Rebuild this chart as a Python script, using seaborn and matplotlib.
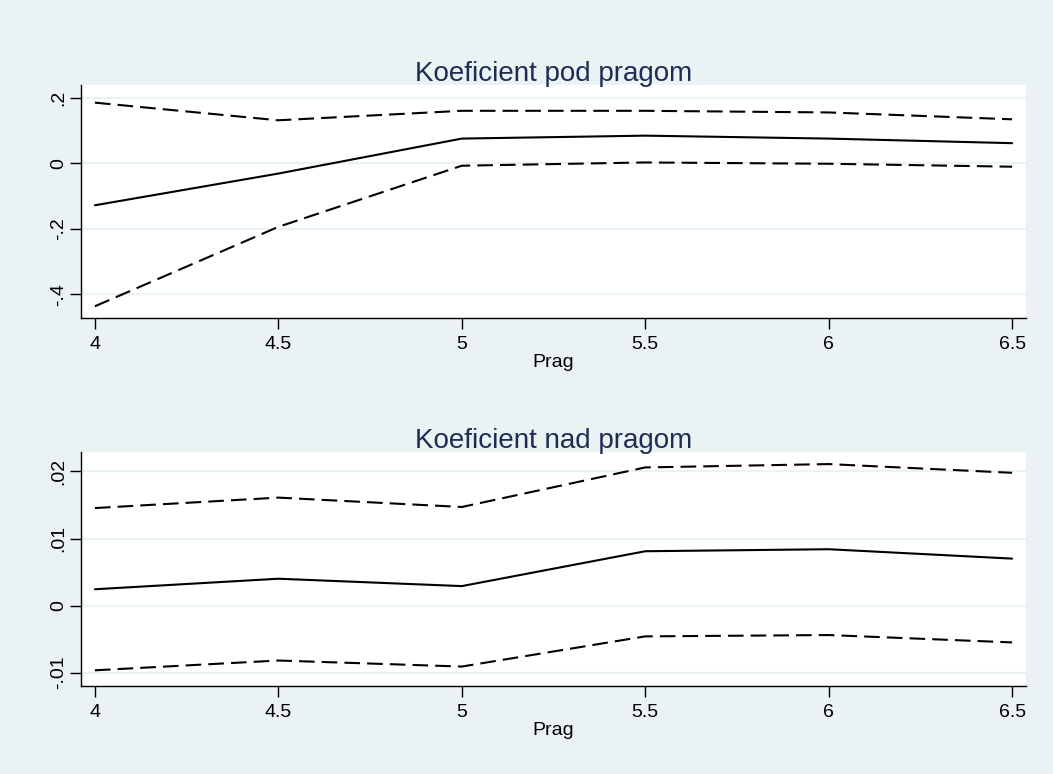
import matplotlib
matplotlib.use("Agg")
import matplotlib.pyplot as plt
import seaborn as sns
import pandas as pd

# Threshold values on the x axis
prag = [4.0, 4.5, 5.0, 5.5, 6.0, 6.5]

# Coefficient below the threshold: estimate with lower/upper confidence bounds
pod_coef = [-0.128, -0.031, 0.076, 0.085, 0.076, 0.062]
pod_low = [-0.437, -0.194, -0.007, 0.003, -0.001, -0.010]
pod_high = [0.186, 0.132, 0.161, 0.161, 0.156, 0.135]

# Coefficient above the threshold
nad_coef = [0.00243, 0.0040, 0.0029, 0.0081, 0.0084, 0.0070]
nad_low = [-0.00966, -0.0082, -0.0091, -0.0046, -0.0044, -0.0055]
nad_high = [0.01454, 0.0161, 0.0147, 0.0206, 0.0211, 0.0198]

xticks = [4, 4.5, 5, 5.5, 6, 6.5]
xtick_labels = ["4", "4.5", "5", "5.5", "6", "6.5"]
pod_yticks = [-0.4, -0.2, 0, 0.2]
pod_ylabels = ["-.4", "-.2", "0", ".2"]
nad_yticks = [-0.01, 0, 0.01, 0.02]
nad_ylabels = ["-.01", "0", ".01", ".02"]

BG = "#EAF2F3"
TITLE_C = "#1E2D53"

sns.set_theme(style="white")
plt.rcParams["font.family"] = ["Liberation Sans", "DejaVu Sans"]

fig = plt.figure(figsize=(10.53, 7.74), dpi=100, facecolor=BG)

ax_top = fig.add_axes([0.0769, 0.5891, 0.8975, 0.3011])
ax_bot = fig.add_axes([0.0769, 0.1137, 0.8975, 0.3023])


def draw_panel(ax, coef, low, high, title, yticks, ylabels, ylim):
    df = pd.DataFrame({"Prag": prag, "coef": coef, "low": low, "high": high})
    lw = 1.5
    sns.lineplot(data=df, x="Prag", y="coef", ax=ax, color="black", lw=lw)
    sns.lineplot(data=df, x="Prag", y="low", ax=ax, color="black", lw=lw)
    sns.lineplot(data=df, x="Prag", y="high", ax=ax, color="black", lw=lw)
    for line in ax.lines[1:]:
        line.set_dashes((7.5, 3.4))
    ax.set_facecolor("white")
    ax.set_xlim(3.962, 6.538)
    ax.set_ylim(*ylim)
    ax.set_xticks(xticks)
    ax.set_xticklabels(xtick_labels, fontsize=14)
    ax.set_yticks(yticks)
    ax.set_yticklabels(ylabels, fontsize=14, rotation=90, va="center")
    ax.grid(axis="y", color=BG, lw=1.6)
    ax.grid(axis="x", visible=False)
    ax.set_axisbelow(True)
    for s in ("top", "right"):
        ax.spines[s].set_visible(False)
    for s in ("left", "bottom"):
        ax.spines[s].set_color("black")
        ax.spines[s].set_linewidth(1.0)
    ax.tick_params(axis="both", which="major", direction="out", length=8,
                   width=1.0, color="black", labelcolor="black",
                   bottom=True, left=True)
    ax.tick_params(axis="x", pad=5)
    ax.tick_params(axis="y", pad=2)
    ax.set_xlabel("Prag", fontsize=14, color="black", labelpad=1)
    ax.set_ylabel("")
    ax.set_title(title, fontsize=20, color=TITLE_C, pad=3)


draw_panel(ax_top, pod_coef, pod_low, pod_high, "Koeficient pod pragom",
           pod_yticks, pod_ylabels, (-0.473, 0.24))
draw_panel(ax_bot, nad_coef, nad_low, nad_high, "Koeficient nad pragom",
           nad_yticks, nad_ylabels, (-0.0120, 0.0229))

fig.savefig("out.png", dpi=100, facecolor=BG)
